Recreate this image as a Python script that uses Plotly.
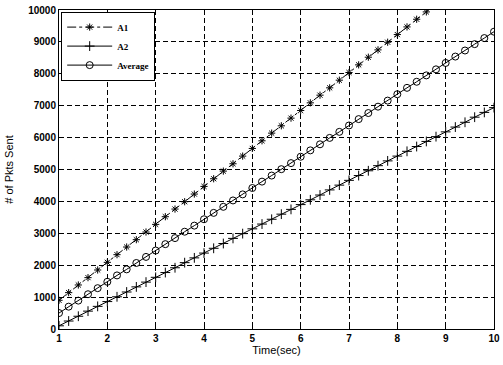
import plotly.graph_objects as go

time_sec = [1.0, 1.2, 1.4, 1.6, 1.8, 2.0, 2.2, 2.4, 2.6, 2.8, 3.0, 3.2, 3.4, 3.6, 3.8,
            4.0, 4.2, 4.4, 4.6, 4.8, 5.0, 5.2, 5.4, 5.6, 5.8, 6.0, 6.2, 6.4, 6.6, 6.8,
            7.0, 7.2, 7.4, 7.6, 7.8, 8.0, 8.2, 8.4, 8.6, 8.8, 9.0, 9.2, 9.4, 9.6, 9.8, 10.0]

a1 = [900, 1140, 1380, 1610, 1850, 2090, 2330, 2570, 2800, 3040, 3280, 3520, 3760, 3990,
      4230, 4470, 4710, 4950, 5180, 5420, 5660, 5900, 6140, 6370, 6610, 6850, 7090, 7330,
      7560, 7800, 8040, 8280, 8520, 8750, 8990, 9230, 9470, 9710, 9940, 10180]

a2 = [100, 250, 400, 560, 710, 860, 1010, 1160, 1320, 1470, 1620, 1770, 1920, 2080, 2230,
      2380, 2530, 2680, 2840, 2990, 3140, 3290, 3440, 3600, 3750, 3900, 4050, 4200, 4360,
      4510, 4660, 4810, 4960, 5120, 5270, 5420, 5570, 5720, 5880, 6030, 6180, 6330, 6480,
      6640, 6790, 6940]

average = [500, 700, 890, 1090, 1280, 1480, 1680, 1870, 2070, 2260, 2460, 2660, 2850, 3050,
           3240, 3440, 3640, 3830, 4030, 4220, 4420, 4620, 4810, 5010, 5200, 5400, 5600,
           5790, 5990, 6180, 6380, 6580, 6770, 6970, 7160, 7360, 7560, 7750, 7950, 8140,
           8340, 8540, 8730, 8930, 9120, 9320]

x_ticks = [1, 2, 3, 4, 5, 6, 7, 8, 9, 10]
y_ticks = [0, 1000, 2000, 3000, 4000, 5000, 6000, 7000, 8000, 9000, 10000]

fig = go.Figure()
fig.add_trace(go.Scatter(
    x=time_sec[:len(a1)], y=a1, name="A1", mode="lines+markers",
    line=dict(color="black", width=1, dash="dashdot"),
    marker=dict(symbol="asterisk-open", size=6, color="black", line=dict(color="black", width=1)),
))
fig.add_trace(go.Scatter(
    x=time_sec, y=a2, name="A2", mode="lines+markers",
    line=dict(color="black", width=1),
    marker=dict(symbol="cross-thin-open", size=7, color="black", line=dict(color="black", width=1)),
))
fig.add_trace(go.Scatter(
    x=time_sec, y=average, name="Average", mode="lines+markers",
    line=dict(color="black", width=1),
    marker=dict(symbol="circle-open", size=7, color="black", line=dict(color="black", width=1)),
))

tick_font = dict(family="Arial, Liberation Sans", size=10, color="black", weight="bold")
title_font = dict(family="Arial, Liberation Sans", size=11, color="black")

axis_common = dict(
    showline=True, linecolor="black", linewidth=1, mirror=True,
    showgrid=True, gridcolor="black", griddash="5px,3px", gridwidth=1,
    ticks="inside", ticklen=4, tickcolor="black", zeroline=False,
    tickfont=tick_font, automargin=False,
)

fig.update_xaxes(range=[1, 10], tickvals=x_ticks, ticktext=[str(v) for v in x_ticks],
                 title=dict(text="Time(sec)", font=title_font, standoff=2),
                 **axis_common)
fig.update_yaxes(range=[0, 10000], tickvals=y_ticks, ticktext=[str(v) for v in y_ticks],
                 title=dict(text="# of Pkts Sent", font=title_font, standoff=12),
                 **axis_common)

fig.update_layout(
    width=503, height=365,
    margin=dict(l=59, r=9, t=10, b=36),
    paper_bgcolor="white", plot_bgcolor="white",
    showlegend=True,
    legend=dict(x=0.005, y=0.995, xanchor="left", yanchor="top",
                bgcolor="white", bordercolor="black", borderwidth=1,
                font=dict(family="Liberation Serif, Times New Roman", size=9, color="black", weight="bold"),
                tracegroupgap=0, itemwidth=45, traceorder="normal"),
)

# remove the page's default body margin so the figure sits at the window's top-left corner
fig.write_html("out.html", config={"displayModeBar": False},
               post_script="document.body.style.margin='0px';")
